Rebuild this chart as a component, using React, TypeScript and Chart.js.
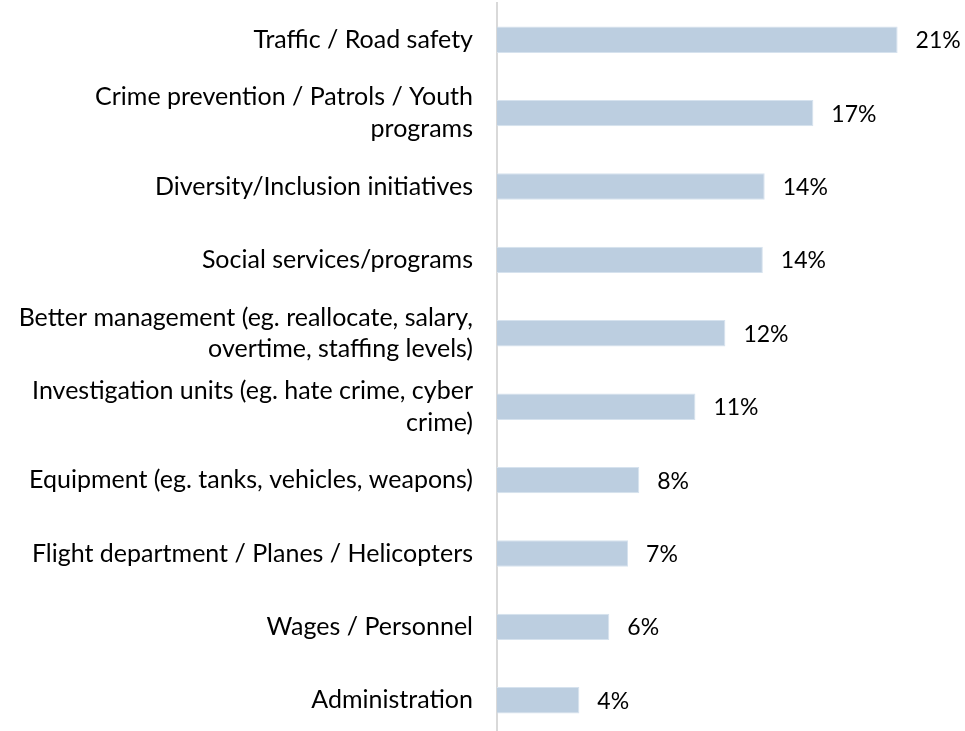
import React, { useEffect, useRef } from "react";
import { Chart, registerables } from "chart.js";

Chart.register(...registerables);

const categories: (string | string[])[] = [
  "Traffic / Road safety",
  ["Crime prevention / Patrols / Youth", "programs"],
  "Diversity/Inclusion initiatives",
  "Social services/programs",
  ["Better management (eg. reallocate, salary,", "overtime, staffing levels)"],
  ["Investigation units (eg. hate crime, cyber", "crime)"],
  "Equipment (eg. tanks, vehicles, weapons)",
  "Flight department / Planes / Helicopters",
  "Wages / Personnel",
  "Administration",
];

const values: number[] = [21.4, 16.9, 14.3, 14.2, 12.2, 10.6, 7.6, 7.0, 6.0, 4.4];

const FONT = "Lato, 'Open Sans', sans-serif";

const valueLabelPlugin = {
  id: "valueLabels",
  afterDatasetsDraw(chart: any) {
    const ctx = chart.ctx;
    const meta = chart.getDatasetMeta(0);
    ctx.save();
    ctx.font = `23px ${FONT}`;
    ctx.fillStyle = "#000000";
    ctx.textAlign = "left";
    ctx.textBaseline = "middle";
    meta.data.forEach((bar: any, i: number) => {
      const v = chart.data.datasets[0].data[i];
      ctx.fillText(`${Math.round(v)}%`, bar.x + 18, bar.y + 1);
    });
    ctx.restore();
  },
};

export default function App() {
  const ref = useRef<HTMLCanvasElement>(null);
  useEffect(() => {
    if (!ref.current) return;
    const chart = new Chart(ref.current, {
      type: "bar",
      data: {
        labels: categories,
        datasets: [
          {
            data: values,
            backgroundColor: "#BCCEE0",
            borderColor: "#D6E2EE",
            borderWidth: 1,
            barPercentage: 0.36,
            categoryPercentage: 1,
          },
        ],
      },
      options: {
        indexAxis: "y",
        animation: false,
        responsive: false,
        maintainAspectRatio: false,
        layout: { padding: { top: 3, bottom: 5, left: 0, right: 0 } },
        plugins: {
          legend: { display: false },
          tooltip: { enabled: false },
        },
        scales: {
          x: {
            display: false,
            min: 0,
            max: 25,
          },
          y: {
            grid: { display: false, drawTicks: false },
            border: { display: true, color: "#D9D9D9", width: 2 },
            ticks: {
              color: "#000000",
              padding: 24,
              autoSkip: false,
              font: { family: FONT, size: 25, lineHeight: 1.26 },
            },
            afterFit(scale: any) {
              scale.width = 497;
              scale.paddingTop = 0;
              scale.paddingBottom = 0;
            },
          },
        },
      },
      plugins: [valueLabelPlugin],
    });
    return () => chart.destroy();
  }, []);
  return (
    <div style={{ position: "fixed", top: 0, left: 0 }}>
      <canvas ref={ref} width={965} height={742} style={{ display: "block" }} />
    </div>
  );
}
